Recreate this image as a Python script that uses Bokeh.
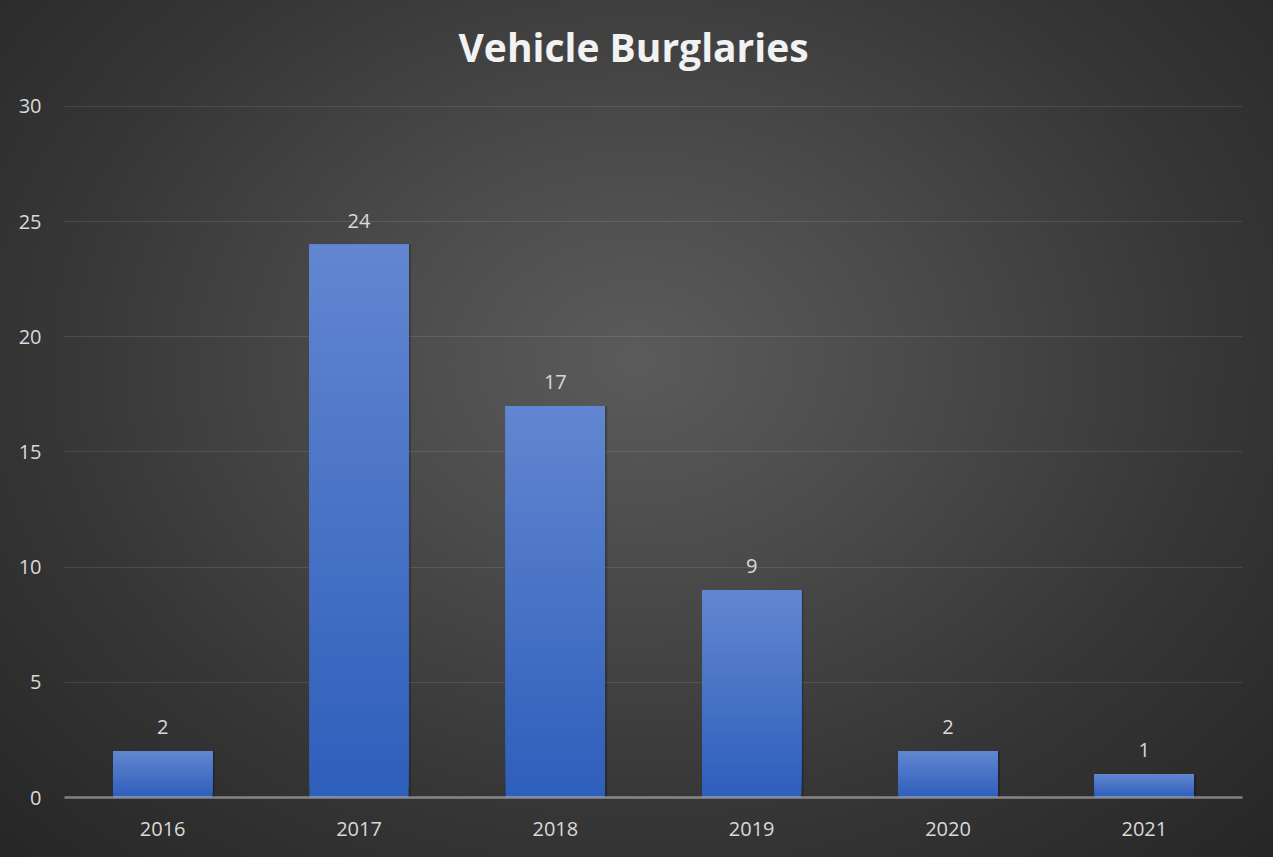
import numpy as np
from bokeh.plotting import figure
from bokeh.models import ColumnDataSource, FactorRange, FixedTicker, Title
from bokeh.transform import dodge
from bokeh.core.properties import value
from bokeh.embed import file_html
from bokeh.resources import INLINE

# ---- data ----
years = ["2016", "2017", "2018", "2019", "2020", "2021"]
counts = [2, 24, 17, 9, 2, 1]
y_ticks = [0, 5, 10, 15, 20, 25, 30]
title_text = "Vehicle Burglaries"

# ---- styling ----
FONT = "Open Sans"
LABEL_COLOR = "#d9d9d9"
TOP_RGB = np.array([0x62, 0x86, 0xd0])
BOT_RGB = np.array([0x2e, 0x5f, 0xbb])
BAR_W = 0.505
N_SLICES = 60

p = figure(
    title=None,
    x_range=FactorRange(*years),
    y_range=(0, 30.04),
    width=1273, height=857,
    output_backend="svg", toolbar_location=None,
    min_border_left=64, min_border_right=31,
    min_border_top=105, min_border_bottom=60,
)
p.styles = {
    "background": "radial-gradient(ellipse farthest-corner at 50% 42%, #5b5b5b 0%, #4b4b4b 30%, #363636 65%, #262626 100%)"
}
p.background_fill_color = None
p.border_fill_color = None
p.outline_line_color = None

# spacer between frame and title (nearest to the frame), then the title itself
p.add_layout(Title(text=" ", text_font_size="1px", standoff=30), "above")
p.add_layout(Title(text=title_text, align="left", offset=394, standoff=0,
                   text_font=FONT, text_font_style="bold", text_font_size="39px",
                   text_color="#f2f2f2"), "above")

# shadow behind bars
shadow_src = ColumnDataSource(dict(x=years, top=counts))
p.vbar(x=dodge("x", 0.012, range=p.x_range), top="top", bottom=0, width=BAR_W,
       source=shadow_src, fill_color="black", fill_alpha=0.22, line_color=None)

# gradient bars: layered from bottom colour upward, each layer covering the rest of the bar
xs, bots, tops, cols = [], [], [], []
for k in range(N_SLICES):
    t = k / (N_SLICES - 1)
    rgb = BOT_RGB + (TOP_RGB - BOT_RGB) * t
    c = "#%02x%02x%02x" % tuple(int(round(ch)) for ch in rgb)
    for yr, v in zip(years, counts):
        xs.append(yr)
        bots.append(v * k / N_SLICES)
        tops.append(v)
        cols.append(c)
bar_src = ColumnDataSource(dict(x=xs, bottom=bots, top=tops, color=cols))
p.vbar(x="x", bottom="bottom", top="top", width=BAR_W, source=bar_src,
       fill_color="color", line_color=None)

# data labels
lab_src = ColumnDataSource(dict(x=years, y=counts, t=[str(c) for c in counts]))
p.text(x="x", y="y", text="t", source=lab_src, text_align="center",
       text_baseline="alphabetic", y_offset=-24, text_font=value(FONT),
       text_font_size="20px", text_color=LABEL_COLOR)

# axes
p.yaxis.ticker = FixedTicker(ticks=y_ticks)
p.yaxis.axis_line_color = None
p.yaxis.major_tick_line_color = None
p.yaxis.minor_tick_line_color = None
p.yaxis.major_tick_out = 0
p.yaxis.major_tick_in = 0
p.yaxis.major_label_standoff = 23
p.yaxis.major_label_text_font = FONT
p.yaxis.major_label_text_font_size = "20px"
p.yaxis.major_label_text_color = LABEL_COLOR

p.xaxis.axis_line_color = "#d9d9d9"
p.xaxis.axis_line_alpha = 0.5
p.xaxis.axis_line_width = 2.5
p.xaxis.major_tick_line_color = None
p.xaxis.minor_tick_line_color = None
p.xaxis.major_tick_out = 0
p.xaxis.major_tick_in = 0
p.xaxis.major_label_standoff = 24
p.xaxis.major_label_text_font = FONT
p.xaxis.major_label_text_font_size = "20px"
p.xaxis.major_label_text_color = LABEL_COLOR

p.xgrid.grid_line_color = None
p.ygrid.grid_line_color = "#d9d9d9"
p.ygrid.grid_line_alpha = 0.13
p.ygrid.grid_line_width = 1.2

open("out.html", "w").write(file_html(p, INLINE))
